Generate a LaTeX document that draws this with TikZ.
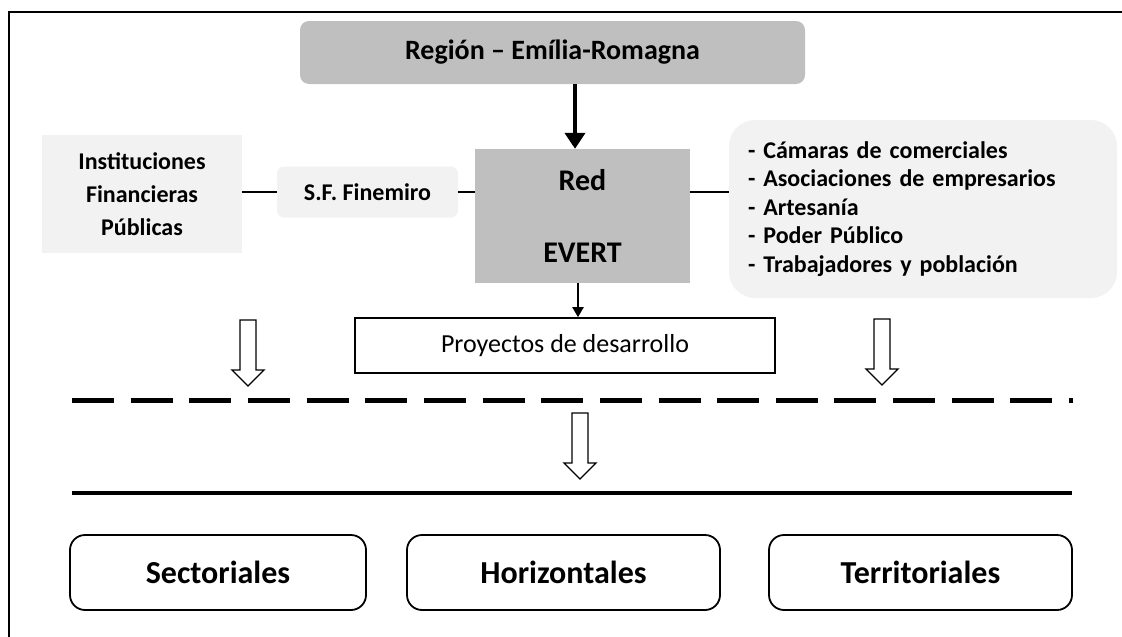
\documentclass[tikz,border=0pt]{standalone}
\usepackage{fontspec}
\setmainfont{Carlito}
\usetikzlibrary{arrows.meta,calc}
\definecolor{boxgray}{HTML}{BFBFBF}
\definecolor{lightgray}{HTML}{F2F2F2}
\tikzset{
  gbox/.style={fill=boxgray, draw=none, inner sep=0pt, align=center, font=\bfseries},
  lbox/.style={fill=lightgray, draw=none, inner sep=0pt, align=center, font=\bfseries},
  obox/.style={draw=black, line width=1.8pt, rounded corners=15pt, fill=white, inner sep=0pt, minimum height=75pt, font=\bfseries\fontsize{32}{38}\selectfont},
  link/.style={line width=2.5pt},
  bigarrow/.style={line width=4.5pt, -{Triangle[length=16pt,width=20pt]}},
  smallarrow/.style={line width=2pt, -{Triangle[length=10pt,width=11pt]}},
  hollow/.pic={\draw[line width=1.3pt, fill=white, line join=miter] (-8,0) -- (8,0) -- (8,50) -- (16,50) -- (0,66) -- (-16,50) -- (-8,50) -- cycle;}
}
\begin{document}
\begin{tikzpicture}[x=1pt, y=-1pt]
\useasboundingbox (0,0) rectangle (1122,637);
% frame
\draw[line width=2pt] (1122,12) -- (9,12) -- (9,637);
% top
\node[gbox, rounded corners=9pt, minimum width=505pt, minimum height=63pt, font=\bfseries\fontsize{28}{34}\selectfont] (top) at (552.5,52.5) {Región – Emília-Romagna};
% center
\node[gbox, minimum width=215pt, minimum height=134pt, font=\bfseries\fontsize{30}{72}\selectfont] (red) at (582.5,216) {Red\\EVERT};
% left boxes
\node[lbox, minimum width=200pt, minimum height=118pt, font=\bfseries\fontsize{24}{33}\selectfont] (inst) at (142,194) {Instituciones\\Financieras\\Públicas};
\node[lbox, rounded corners=7pt, minimum width=181pt, minimum height=51pt, font=\bfseries\fontsize{24}{29}\selectfont] (sf) at (367.5,192) {S.F. Finemiro};
% right box
\node[lbox, rounded corners=26pt, minimum width=388pt, minimum height=178pt, text width=350pt, inner xsep=19pt, align=left, font=\bfseries\fontsize{24}{28.5}\selectfont] (right) at (923,209) {- Cámaras de comerciales\\- Asociaciones de empresarios\\- Artesanía\\- Poder Público\\- Trabajadores y población};
% proyectos
\node[draw=black, line width=1.6pt, fill=white, minimum width=420pt, minimum height=55pt, inner sep=0pt, font=\fontsize{26}{31}\selectfont] (proy) at (565,345.5) {Proyectos de desarrollo};
% bottom boxes
\node[obox, minimum width=296pt] (sec) at (218,572.5) {Sectoriales};
\node[obox, minimum width=313pt] (hor) at (563.5,572.5) {Horizontales};
\node[obox, minimum width=303pt] (ter) at (920.5,572.5) {Territoriales};
% connectors
\draw[link] (sf.west -| inst.east) -- (sf.west);
\draw[link] (sf.east) -- (sf.east -| red.west);
\draw[link] (sf.east -| red.east) -- (sf.east -| right.west);
\coordinate (rin) at ([xshift=-7.5pt]red.north);
\draw[bigarrow] (rin |- top.south) -- (rin);
\coordinate (rout) at ([xshift=-4.5pt]red.south);
\draw[smallarrow] (rout) -- (rout |- proy.north);
% hollow arrows
\pic at (248,320) {hollow};
\pic at (882,319) {hollow};
\pic at (580,413) {hollow};
% lines
\coordinate (dl) at (72,400);
\coordinate (dr) at (1073,400);
\draw[line width=5pt, dash pattern=on 42pt off 16.65pt] (dl) -- (dr);
\coordinate (sl) at (72,493);
\coordinate (sr) at (1072,493);
\draw[line width=4pt] (sl) -- (sr);
\end{tikzpicture}
\end{document}
